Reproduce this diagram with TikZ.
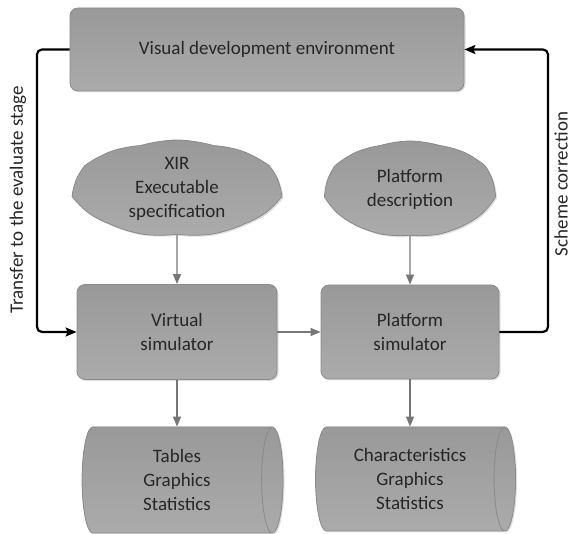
\documentclass[tikz,border=0pt]{standalone}
\usepackage{fontspec}
\setmainfont{Carlito}
\usetikzlibrary{shapes.geometric,shapes.symbols,arrows.meta,shadows}

\definecolor{boxtop}{HTML}{999999}
\definecolor{boxbot}{HTML}{ABABAB}
\definecolor{boxline}{HTML}{8A8A8A}
\definecolor{flowgray}{HTML}{767676}

\tikzset{
  shaded/.style={top color=boxtop, bottom color=boxbot, draw=boxline, line width=0.8pt,
    drop shadow={shadow xshift=1.5pt, shadow yshift=-1.5pt, fill=black!20, opacity=0.6}},
  block/.style={shaded, rectangle, rounded corners=8pt, align=center},
  puff/.style={shaded, cloud, cloud puffs=9, cloud puff arc=35, inner sep=0pt},
  store/.style={shaded, cylinder, shape aspect=0.35, align=center, inner sep=0pt,
    cylinder uses custom fill, cylinder body fill=boxtop!70!boxbot, cylinder end fill=boxbot},
  caption/.style={align=center, inner sep=0pt},
  flow/.style={draw=flowgray, line width=1.2pt, -{Triangle[length=10pt,width=8pt]}},
  loop/.style={draw=black, line width=2.2pt, rounded corners=5pt,
    -{Stealth[length=11pt,width=9pt,inset=2pt]}},
  sidelabel/.style={rotate=90, text=black!85}
}

\begin{document}
\begin{tikzpicture}[x=1pt, y=-1pt, font=\fontsize{19}{24}\selectfont, text=black!85]
  \useasboundingbox (0,0) rectangle (571,534);

  % main blocks
  \node[block, minimum width=394pt, minimum height=83pt] (env) at (267,49.5) {Visual development environment};
  \node[block, minimum width=200pt, minimum height=95pt] (virt) at (177,332) {Virtual\\simulator};
  \node[block, minimum width=178pt, minimum height=94pt] (plat) at (410,332) {Platform\\simulator};

  % inputs: cloud outlines with their captions on top
  \node[puff, minimum width=205pt, minimum height=97pt] (xir) at (177,188.5) {};
  \node[caption] (xirtext) at (xir.center) {XIR\\Executable\\specification};
  \node[puff, minimum width=168pt, minimum height=96pt] (pdesc) at (410,189) {};
  \node[caption] (pdesctext) at (pdesc.center) {Platform\\description};

  % outputs (cylinder: height is along the axis)
  \node[store, minimum height=201pt, minimum width=106pt] (tab) at (177,480) {Tables\\Graphics\\Statistics};
  \node[store, minimum height=200pt, minimum width=104pt] (chr) at (410,479) {Characteristics\\Graphics\\Statistics};

  % data flow
  \draw[flow] (xir) -- (virt);
  \draw[flow] (pdesc) -- (plat);
  \draw[flow] (virt) -- (plat);
  \draw[flow] (virt) -- (virt |- tab.north);
  \draw[flow] (plat) -- (plat |- chr.north);

  % feedback loops
  \coordinate (lx) at (37,0);
  \coordinate (rx) at (548,0);
  \draw[loop] (env.west) -- (env.west -| lx) -- (virt.west -| lx) -- (virt.west);
  \draw[loop] (plat.east) -- (plat.east -| rx) -- (env.east -| rx) -- (env.east);

  % loop labels
  \node[sidelabel] (tlabel) at (18,200) {Transfer to the evaluate stage};
  \node[sidelabel] (slabel) at (561,184) {Scheme correction};
\end{tikzpicture}
\end{document}
